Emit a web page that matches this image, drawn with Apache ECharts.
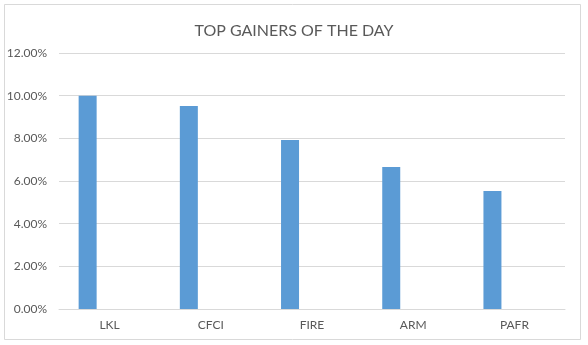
<!DOCTYPE html>
<html>
<head>
<meta charset="utf-8">
<script src="https://cdn.jsdelivr.net/npm/echarts@6/dist/echarts.min.js"></script>
<style>html,body{margin:0;padding:0;background:#fff;}#c{width:588px;height:345px;}</style>
</head>
<body>
<div id="c"></div>
<script>
const categories = ['LKL', 'CFCI', 'FIRE', 'ARM', 'PAFR'];
const gains = [10.0, 9.52, 7.92, 6.66, 5.53];
const emptySeries = [null, null, null, null, null];
const yTicks = { min: 0, max: 12, interval: 2 };

const chart = echarts.init(document.getElementById('c'), null, { renderer: 'canvas' });
const font = 'Lato, "Open Sans", "Liberation Sans", sans-serif';
chart.setOption({
  animation: false,
  backgroundColor: '#fff',
  title: {
    text: 'TOP GAINERS OF THE DAY',
    left: 'center',
    top: 18,
    textStyle: { fontFamily: font, fontSize: 16, fontWeight: 'normal', color: '#595959' }
  },
  graphic: [{
    type: 'rect',
    shape: { x: 4.5, y: 4.5, width: 576, height: 335 },
    style: { fill: 'none', stroke: '#d9d9d9', lineWidth: 1 },
    silent: true
  }],
  grid: { left: 59, right: 23, top: 53, bottom: 36 },
  xAxis: {
    type: 'category',
    data: categories,
    axisLine: { show: true, lineStyle: { color: '#d9d9d9' } },
    axisTick: { show: false },
    axisLabel: { color: '#595959', fontFamily: font, fontSize: 12, margin: 10 }
  },
  yAxis: {
    type: 'value',
    min: yTicks.min,
    max: yTicks.max,
    interval: yTicks.interval,
    axisLine: { show: false },
    axisTick: { show: false },
    splitLine: { lineStyle: { color: '#d9d9d9' } },
    axisLabel: {
      color: '#595959', fontFamily: font, fontSize: 12, margin: 12,
      formatter: v => v.toFixed(2) + '%'
    }
  },
  series: [
    { type: 'bar', data: gains, barWidth: 18, barGap: '144%', itemStyle: { color: '#5b9bd5' } },
    { type: 'bar', data: emptySeries, barWidth: 18, itemStyle: { color: '#ed7d31' } }
  ]
});
</script>
</body>
</html>
